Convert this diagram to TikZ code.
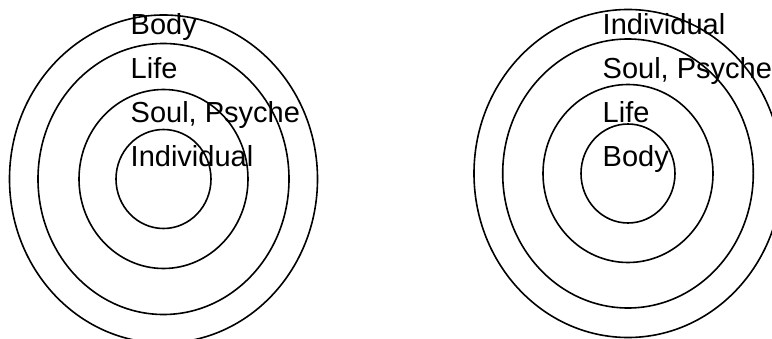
\documentclass[tikz,border=0pt]{standalone}
\usepackage{fontspec}
\setmainfont{Liberation Sans}
\begin{document}
\begin{tikzpicture}[x=1pt,y=1pt,
  ring/.style={draw=black,line width=1.6pt},
  lbl/.style={anchor=base west,inner sep=0pt,font=\fontsize{29}{34}\selectfont}]
\useasboundingbox (0,0) rectangle (772,338);
\clip (0,0) rectangle (772,338);
% left set
\coordinate (L) at (163.5,159);
\draw[ring] (L) ellipse [x radius=154, y radius=164];
\draw[ring] (L) ellipse [x radius=125.5, y radius=135.5];
\draw[ring] (L) ellipse [x radius=84.5, y radius=89.5];
\draw[ring] (L) ellipse [x radius=47.5, y radius=49.5];
\node[lbl] (l1) at (130.5,303) {Body};
\node[lbl] (l2) at (130.5,259) {Life};
\node[lbl] (l3) at (130.5,215.3) {Soul, Psyche};
\node[lbl] (l4) at (130.5,171.3) {Individual};
% right set
\coordinate (R) at (628,164.5);
\draw[ring] (R) ellipse [x radius=154, y radius=164];
\draw[ring] (R) ellipse [x radius=125.3, y radius=134.5];
\draw[ring] (R) ellipse [x radius=85, y radius=89];
\draw[ring] (R) ellipse [x radius=47, y radius=49.5];
\node[lbl] (r1) at (602.5,303) {Individual};
\node[lbl] (r2) at (602.5,259) {Soul, Psyche};
\node[lbl] (r3) at (602.5,215.3) {Life};
\node[lbl] (r4) at (602.5,171.3) {Body};
\end{tikzpicture}
\end{document}
